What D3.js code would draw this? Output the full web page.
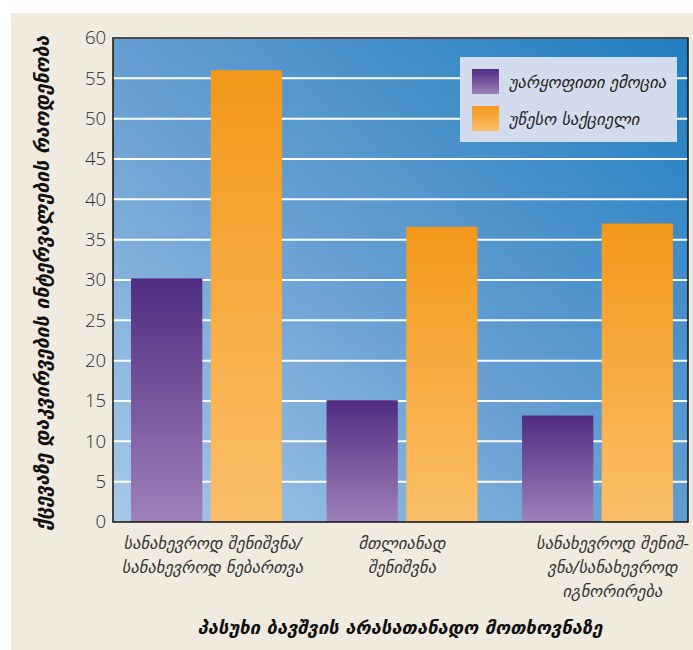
<!DOCTYPE html>
<html><head><meta charset="utf-8">
<script src="https://cdn.jsdelivr.net/npm/d3@7"></script>
<style>body{margin:0;background:#fff}svg{display:block}</style>
</head><body><svg id="c" width="693" height="650"></svg>
<script>
const categories = [
  ["სანახევროდ შენიშვნა/", "სანახევროდ ნებართვა"],
  ["მთლიანად", "შენიშვნა"],
  ["სანახევროდ შენიშ-", "ვნა/სანახევროდ", "იგნორირება"]
];
const categoryKeys = ["c1", "c2", "c3"];
const seriesNames = ["უარყოფითი ემოცია", "უწესო საქციელი"];
const negativeEmotion = [30.2, 15.1, 13.2];
const misbehavior = [56.0, 36.6, 37.0];
const yTicks = [0, 5, 10, 15, 20, 25, 30, 35, 40, 45, 50, 55, 60];
const yTitle = "ქცევაზე დაკვირვების ინტერვალების რაოდენობა";
const xTitle = "პასუხი ბავშვის არასათანადო მოთხოვნაზე";

const svg = d3.select("#c");
const defs = svg.append("defs");
const bg = defs.append("linearGradient").attr("id","bg").attr("x1","0").attr("y1","1").attr("x2","1").attr("y2","0");
bg.append("stop").attr("offset","0").attr("stop-color","#a8c9e8");
bg.append("stop").attr("offset","0.45").attr("stop-color","#6aa0d3");
bg.append("stop").attr("offset","1").attr("stop-color","#1f7ec0");
const gp = defs.append("linearGradient").attr("id","gp").attr("x1","0").attr("y1","0").attr("x2","0").attr("y2","1");
gp.append("stop").attr("offset","0").attr("stop-color","#4f2c82");
gp.append("stop").attr("offset","1").attr("stop-color","#9f81b9");
const go = defs.append("linearGradient").attr("id","go").attr("x1","0").attr("y1","0").attr("x2","0").attr("y2","1");
go.append("stop").attr("offset","0").attr("stop-color","#f3981a");
go.append("stop").attr("offset","1").attr("stop-color","#fbbf69");
const fills = ["url(#gp)", "url(#go)"];

// beige panel
svg.append("rect").attr("x",11).attr("y",13).attr("width",682).attr("height",637).attr("fill","#f0eadf");

const L = 113, R = 688, T = 38, B = 522;
const y = d3.scaleLinear().domain([0,60]).range([B,T]);
const x0 = d3.scaleBand().domain(categoryKeys).range([108.75, 695.25]).paddingInner(0.228).paddingOuter(0.114);
const x1 = d3.scaleBand().domain([0,1]).range([0, x0.bandwidth()]).paddingInner(0.105);

svg.append("rect").attr("x",L).attr("y",T).attr("width",R-L).attr("height",B-T).attr("fill","url(#bg)");

// gridlines
svg.append("g").selectAll("line").data(yTicks.filter(d=>d>0)).join("line")
  .attr("x1",L).attr("x2",R).attr("y1",d=>y(d)).attr("y2",d=>y(d))
  .attr("stroke","#fff").attr("stroke-width",2);

// bars
const data = categoryKeys.map((k,i)=>({k, v:[negativeEmotion[i], misbehavior[i]]}));
const g = svg.append("g").selectAll("g").data(data).join("g").attr("transform",d=>`translate(${x0(d.k)},0)`);
g.selectAll("rect").data(d=>d.v.map((v,j)=>({v,j}))).join("rect")
  .attr("x",d=>x1(d.j)).attr("width",x1.bandwidth())
  .attr("y",d=>y(d.v)).attr("height",d=>B-y(d.v))
  .attr("fill",d=>fills[d.j]);

// frame
svg.append("rect").attr("x",L).attr("y",T).attr("width",R-L).attr("height",B-T)
  .attr("fill","none").attr("stroke","#111").attr("stroke-width",1.5);

// y axis
const ya = svg.append("g").attr("transform",`translate(${L},0)`)
  .call(d3.axisLeft(y).tickValues(yTicks).tickSize(0).tickPadding(7));
ya.select(".domain").remove();
ya.selectAll("text").attr("font-family","'Open Sans', sans-serif").attr("font-weight",300)
  .attr("font-size",18.5).attr("fill","#2a2a2a");

// x labels
const xl = svg.append("g").selectAll("text").data(categories).join("text")
  .attr("x",(d,i)=>x0(categoryKeys[i])+x0.bandwidth()/2 + [6,0,15][i])
  .attr("y",549)
  .attr("text-anchor","middle").attr("font-family","'DejaVu Sans', sans-serif")
  .attr("font-style","italic").attr("font-size",16.5).attr("fill","#333");
xl.selectAll("tspan").data(d=>d).join("tspan")
  .attr("x",function(){return this.parentNode.getAttribute("x");})
  .attr("dy",(d,i)=>i===0?0:24).text(d=>d);

// axis titles
svg.append("text").attr("x",400).attr("y",634).attr("text-anchor","middle")
  .attr("font-family","'DejaVu Sans', sans-serif").attr("font-style","italic").attr("font-weight","bold")
  .attr("font-size",18.5).attr("fill","#111").text(xTitle);
svg.append("text").attr("transform","translate(49,283) rotate(-90)").attr("text-anchor","middle")
  .attr("font-family","'DejaVu Sans', sans-serif").attr("font-style","italic").attr("font-weight","bold")
  .attr("font-size",19.5).attr("fill","#111").text(yTitle);

// legend
const lg = svg.append("g");
lg.append("rect").attr("x",460).attr("y",57).attr("width",217).attr("height",85).attr("fill","#d3dcec");
const li = lg.selectAll("g").data(seriesNames).join("g").attr("transform",(d,i)=>`translate(0,${i*37})`);
li.append("rect").attr("x",472).attr("y",69).attr("width",27).attr("height",25).attr("fill",(d,i)=>fills[i]);
li.append("text").attr("x",509).attr("y",88).attr("font-family","'DejaVu Sans', sans-serif")
  .attr("font-style","italic").attr("font-size",16.5).attr("fill","#222").text(d=>d);
</script></body></html>
